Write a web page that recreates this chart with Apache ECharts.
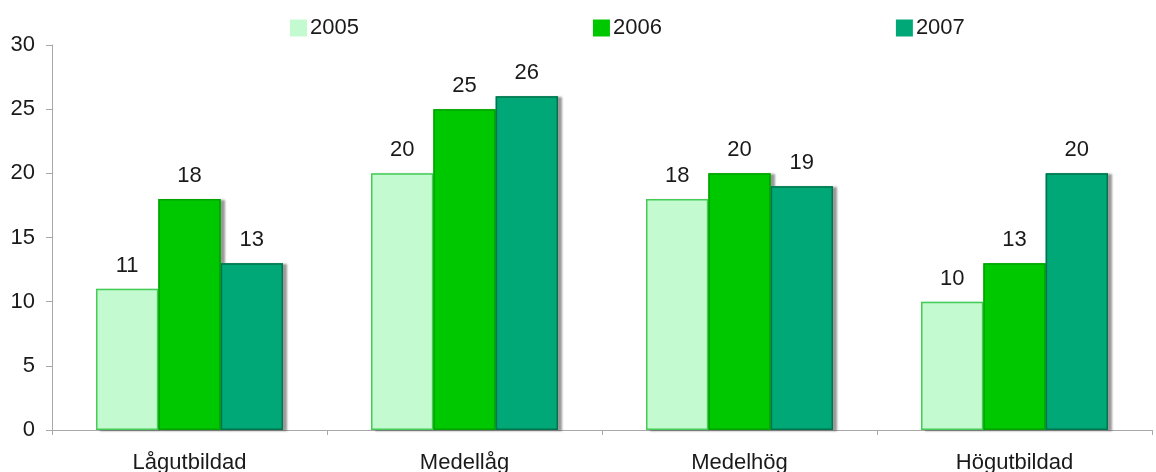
<!DOCTYPE html>
<html>
<head>
<meta charset="utf-8">
<script src="https://cdn.jsdelivr.net/npm/echarts@6/dist/echarts.min.js"></script>
<style>
  html, body { margin: 0; padding: 0; background: #fff; }
  #chart { width: 1156px; height: 472px; }
</style>
</head>
<body>
<div id="chart"></div>
<script>
// chart data
var categories = ['Lågutbildad', 'Medellåg', 'Medelhög', 'Högutbildad'];
var seriesNames = ['2005', '2006', '2007'];
var values2005 = [11, 20, 18, 10];
var values2006 = [18, 25, 20, 13];
var values2007 = [13, 26, 19, 20];
var yTicks = [0, 5, 10, 15, 20, 25, 30];

var fills = ['#c4fad0', '#00c800', '#00a878'];
var borders = ['#44cc55', '#00a300', '#00744c'];
var textFont = 'Liberation Sans, Arial, sans-serif';

// filled bars with the drop shadow (xAxis 0)
function fillSeries(name, data, i) {
  return {
    name: name,
    type: 'bar',
    xAxisIndex: 0,
    data: data,
    barGap: '0%',
    barCategoryGap: '32%',
    itemStyle: {
      color: fills[i],
      borderWidth: 0,
      shadowColor: 'rgba(0,0,0,0.4)',
      shadowOffsetX: 4,
      shadowOffsetY: 1,
      shadowBlur: 2
    }
  };
}

// outlines and value labels, drawn on a hidden twin axis so the
// shadow does not fall inside the bars
function outlineSeries(name, data, i) {
  return {
    name: name,
    type: 'bar',
    xAxisIndex: 1,
    data: data,
    barGap: '0%',
    barCategoryGap: '32%',
    itemStyle: {
      color: 'rgba(0,0,0,0)',
      borderColor: borders[i],
      borderWidth: 1.5
    },
    label: {
      show: true,
      position: 'top',
      distance: 12,
      fontSize: 22,
      color: '#1a1a1a',
      fontFamily: textFont
    }
  };
}

var chart = echarts.init(document.getElementById('chart'));

var option = {
  animation: false,
  textStyle: { fontFamily: textFont },
  color: fills,
  legend: {
    left: 285,
    top: 12,
    itemWidth: 17,
    itemHeight: 17,
    itemGap: 234,
    icon: 'rect',
    itemStyle: { borderWidth: 0, shadowBlur: 0, shadowOffsetX: 0, shadowOffsetY: 0, shadowColor: 'rgba(0,0,0,0)' },
    textStyle: { fontSize: 22, color: '#1a1a1a', padding: [0, 0, 0, -2] },
    data: seriesNames
  },
  grid: { left: 52, right: 4, top: 45, bottom: 42, containLabel: false, outerBoundsMode: 'none' },
  xAxis: [{
    type: 'category',
    data: categories,
    axisLine: { show: true, lineStyle: { color: '#a8a8a8', width: 1 } },
    axisTick: { show: true, length: 5, lineStyle: { color: '#a8a8a8' } },
    axisLabel: { fontSize: 22, color: '#1a1a1a', margin: 22 }
  }, {
    type: 'category',
    data: categories,
    position: 'bottom',
    show: false
  }],
  yAxis: {
    type: 'value',
    min: yTicks[0],
    max: yTicks[yTicks.length - 1],
    interval: 5,
    axisLine: { show: true, lineStyle: { color: '#a8a8a8', width: 1 } },
    axisTick: { show: true, length: 6, lineStyle: { color: '#a8a8a8' } },
    axisLabel: { fontSize: 22, color: '#1a1a1a', margin: 17 },
    splitLine: { show: false }
  },
  series: [
    fillSeries(seriesNames[0], values2005, 0),
    fillSeries(seriesNames[1], values2006, 1),
    fillSeries(seriesNames[2], values2007, 2),
    outlineSeries(seriesNames[0], values2005, 0),
    outlineSeries(seriesNames[1], values2006, 1),
    outlineSeries(seriesNames[2], values2007, 2)
  ]
};

chart.setOption(option);
</script>
</body>
</html>
